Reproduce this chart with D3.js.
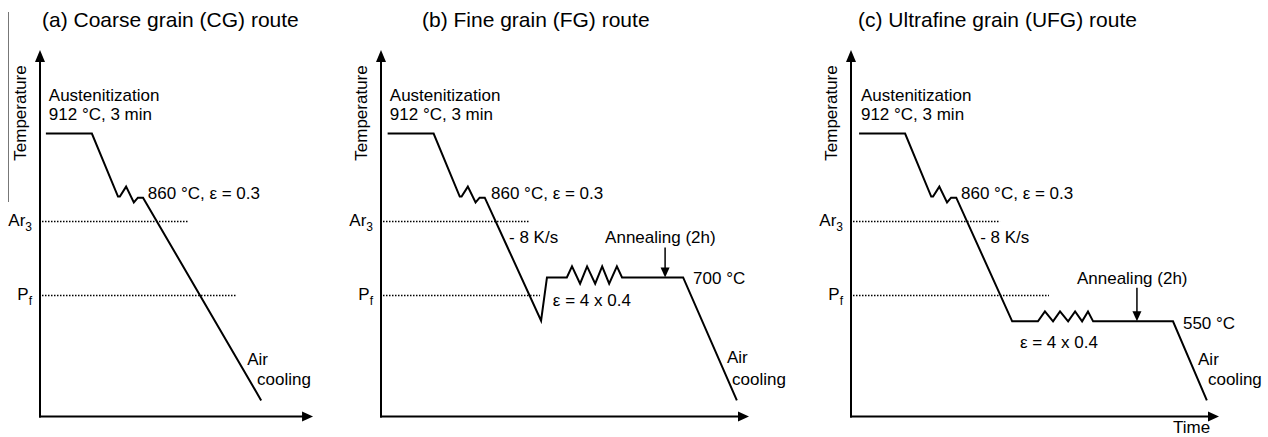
<!DOCTYPE html>
<html><head><meta charset="utf-8">
<script src="https://cdn.jsdelivr.net/npm/d3@7"></script>
<style>
body{margin:0;background:#fff}
svg{display:block}
text{font-family:"Liberation Sans",Arial,Helvetica,sans-serif;fill:#000}
</style>
</head><body>
<svg id="chart" width="1268" height="437"></svg>
<script>
// ---------- DATA (abstract units: time 0..100, temperature 0..100) ----------
const panelTitles = ["(a) Coarse grain (CG) route", "(b) Fine grain (FG) route", "(c) Ultrafine grain (UFG) route"];
const yAxisLabel = "Temperature";
const xAxisLabel = "Time";
const levelNames = ["Ar", "P"];
const levelSubs = ["3", "f"];
const levelTemps = [53.4, 33.3];
// end time of dotted level lines, per panel [Ar3, Pf]
const levelEndA = [40.2, 53.5];
const levelEndB = [40.2, 43.2];
const levelEndC = [40.5, 53.8];
// thermo-mechanical routes [time, temperature]
const routeA = [[1.6,77.3],[14.1,77.3],[21.2,60.1],[21.7,60.1],[23.4,62.8],[25.5,58.5],[26.6,59.8],[28.0,59.8],[60.1,4.4]];
const routeB = [[1.8,77.3],[14.3,77.3],[21.4,60.1],[21.9,60.1],[23.6,62.8],[25.7,58.5],[26.8,59.8],[28.2,59.8],
  [43.5,26.2],[45.1,38.0],[50.5,38.0],[51.9,41.0],[54.1,36.3],[56.0,41.0],[58.2,36.3],[60.1,41.0],[62.0,36.3],[64.1,41.0],[65.5,38.0],
  [82.1,38.0],[96.7,4.4]];
const routeC = [[2.2,77.3],[14.7,77.3],[21.8,60.1],[22.3,60.1],[24.0,62.8],[26.1,58.5],[27.2,59.8],[28.6,59.8],
  [43.8,26.0],[50.8,26.0],[52.7,28.7],[54.9,26.0],[56.8,28.7],[59.0,26.0],[60.9,28.7],[62.8,26.0],[64.4,28.7],[65.8,26.0],
  [87.5,26.0],[96.7,4.4]];
// annealing arrows [time, fromTemp, toTemp]
const annealB = [77.2, 46.2, 38.0];
const annealC = [77.7, 35.2, 26.0];
// annotations [text, time, temperature]
const notesA = [["Austenitization",2.4,86.3],["912 °C, 3 min",2.4,80.9],["860 °C, ε = 0.3",29.3,59.3],["Air",56.3,14.2],["cooling",59.0,8.7]];
const notesB = [["Austenitization",2.4,86.3],["912 °C, 3 min",2.4,80.9],["860 °C, ε = 0.3",29.9,59.3],["- 8 K/s",34.8,47.3],
  ["Annealing (2h)",60.9,47.3],["700 °C",84.8,36.3],["ε = 4 x 0.4",46.7,30.3],["Air",94.0,14.5],["cooling",95.4,8.7]];
const notesC = [["Austenitization",2.7,86.3],["912 °C, 3 min",2.7,80.9],["860 °C, ε = 0.3",29.9,59.3],["- 8 K/s",35.1,47.3],
  ["Annealing (2h)",61.4,36.3],["550 °C",90.2,23.8],["ε = 4 x 0.4",45.9,18.6],["Air",94.3,14.2],["cooling",97.0,8.5]];
const timeMax = [74.2, 100, 100];

// ---------- LAYOUT ----------
const svg = d3.select("#chart");
const panelX0 = [40, 381, 851];
const pxPerUnit = 3.68;
const yBottom = 416.5, yTop = 50;
const yScale = d3.scaleLinear().domain([0, 100]).range([yBottom, yBottom - 100 * 3.66]);

const panels = [
  {title: panelTitles[0], titleX: 42, route: routeA, levelEnd: levelEndA, anneal: null, notes: notesA, tmax: timeMax[0], showTime: false},
  {title: panelTitles[1], titleX: 422, route: routeB, levelEnd: levelEndB, anneal: annealB, notes: notesB, tmax: timeMax[1], showTime: false},
  {title: panelTitles[2], titleX: 858, route: routeC, levelEnd: levelEndC, anneal: annealC, notes: notesC, tmax: timeMax[2], showTime: true}
];

// stray gray frame line at left (present in the reference)
svg.append("line").attr("x1", 8.5).attr("x2", 8.5).attr("y1", 12).attr("y2", 202)
  .attr("stroke", "#777").attr("stroke-width", 1);

panels.forEach((p, i) => {
  const x0 = panelX0[i];
  const xScale = d3.scaleLinear().domain([0, p.tmax]).range([x0, x0 + p.tmax * pxPerUnit]);
  const xEnd = xScale(p.tmax);
  const g = svg.append("g");

  // title
  g.append("text").attr("x", p.titleX).attr("y", 27).attr("font-size", 21).text(p.title);

  // axes
  g.append("line").attr("x1", x0).attr("x2", x0).attr("y1", yBottom + 1).attr("y2", yTop + 10)
    .attr("stroke", "#000").attr("stroke-width", 2);
  g.append("path").attr("d", `M${x0},${yTop} L${x0 - 5},${yTop + 12} L${x0 + 5},${yTop + 12} Z`).attr("fill", "#000");
  g.append("line").attr("x1", x0 - 1).attr("x2", xEnd - 8).attr("y1", yBottom).attr("y2", yBottom)
    .attr("stroke", "#000").attr("stroke-width", 2);
  g.append("path").attr("d", `M${xEnd},${yBottom} L${xEnd - 11},${yBottom - 5} L${xEnd - 11},${yBottom + 5} Z`).attr("fill", "#000");

  // y-axis label
  g.append("text").attr("transform", `translate(${x0 - 14},113) rotate(-90)`)
    .attr("text-anchor", "middle").attr("font-size", 17).text(yAxisLabel);
  if (p.showTime) {
    g.append("text").attr("x", xScale(87.5)).attr("y", yScale(-4.6)).attr("font-size", 17).text(xAxisLabel);
  }

  // level lines (Ar3, Pf)
  levelTemps.forEach((T, k) => {
    const yy = Math.round(yScale(T)) + 0.5;
    g.append("line").attr("x1", x0 + 2).attr("x2", xScale(p.levelEnd[k]))
      .attr("y1", yy).attr("y2", yy)
      .attr("stroke", "#000").attr("stroke-width", 1.3).attr("stroke-dasharray", "1.5,1.5");
    const t = g.append("text").attr("x", x0 - 8).attr("y", yScale(T) + 5).attr("text-anchor", "end").attr("font-size", 17);
    t.append("tspan").text(levelNames[k]);
    t.append("tspan").attr("font-size", 12).attr("dy", 5).text(levelSubs[k]);
  });

  // route
  const line = d3.line().x(d => xScale(d[0])).y(d => yScale(d[1]));
  g.append("path").attr("d", line(p.route)).attr("fill", "none")
    .attr("stroke", "#000").attr("stroke-width", 2).attr("stroke-linejoin", "miter");

  // annealing arrow
  if (p.anneal) {
    const ax = xScale(p.anneal[0]), ay1 = yScale(p.anneal[1]), ay2 = yScale(p.anneal[2]);
    g.append("line").attr("x1", ax).attr("x2", ax).attr("y1", ay1).attr("y2", ay2 - 8)
      .attr("stroke", "#000").attr("stroke-width", 1.5);
    g.append("path").attr("d", `M${ax},${ay2} L${ax - 4.5},${ay2 - 10} L${ax + 4.5},${ay2 - 10} Z`).attr("fill", "#000");
  }

  // annotations
  p.notes.forEach(n => {
    g.append("text").attr("x", xScale(n[1])).attr("y", yScale(n[2])).attr("font-size", 17).text(n[0]);
  });
});
</script>
</body></html>
